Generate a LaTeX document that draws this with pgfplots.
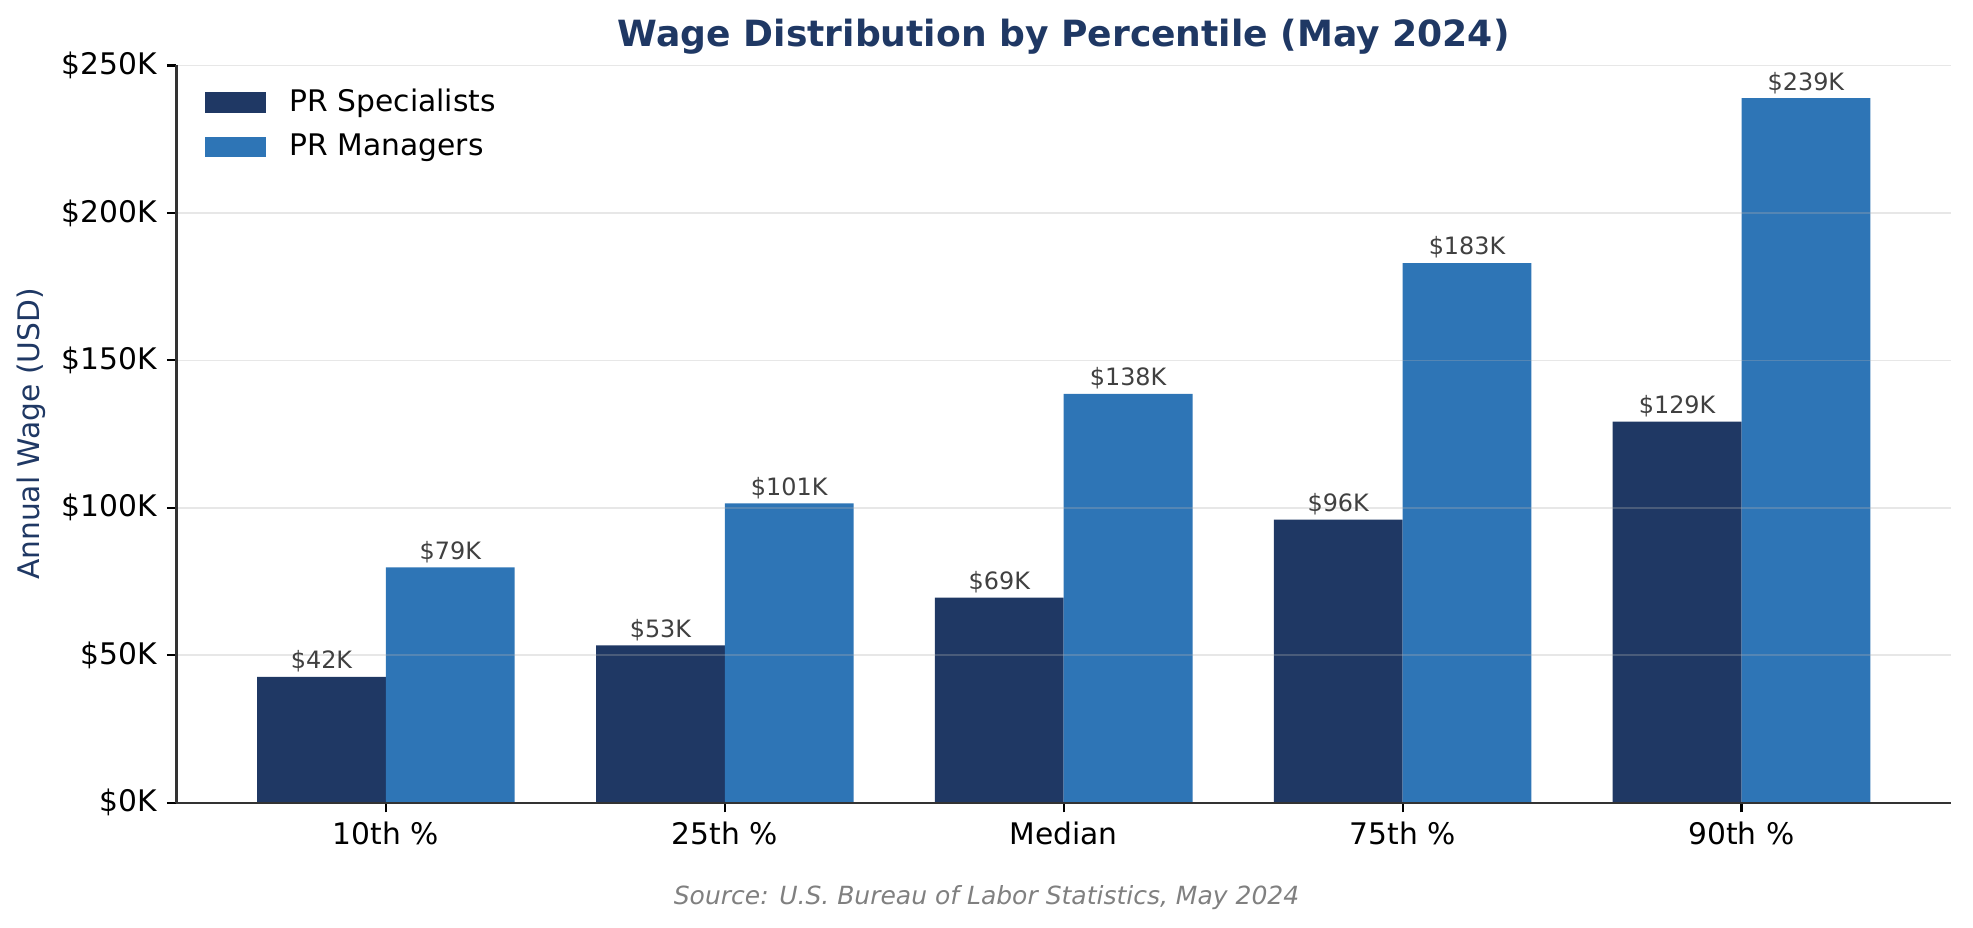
\documentclass[border=0pt]{standalone}
\usepackage{fontspec}
\setmainfont{DejaVu Sans}
\usepackage{pgfplots}
\pgfplotsset{compat=1.18}

\definecolor{navy}{HTML}{1F3864}
\definecolor{midblue}{HTML}{2E75B6}
\definecolor{lbl}{HTML}{404040}
\definecolor{srcgray}{HTML}{808080}
\definecolor{gridc}{HTML}{B0B0B0}
\definecolor{spine}{HTML}{333333}

\begin{document}
\begin{tikzpicture}
\begin{axis}[
    scale only axis,
    width=638.8pt, height=265.4pt,
    xmin=-0.618, xmax=4.618, ymin=0, ymax=250,
    axis x line*=bottom, axis y line*=left,
    axis line style={spine, line width=0.8pt, -},
    axis on top,
    ybar, bar width=0.38,
    xtick={0,1,2,3,4},
    xticklabels={10th \%, 25th \%, Median, 75th \%, 90th \%},
    ytick={0,50,100,150,200,250},
    yticklabels={\$0K,\$50K,\$100K,\$150K,\$200K,\$250K},
    tick align=outside, major tick length=3.5pt,
    tick style={black, line width=0.8pt},
    ymajorgrids,
    grid style={gridc, opacity=0.3, line width=0.6pt},
    ticklabel style={font=\fontsize{10.7}{12}\selectfont},
    title={Wage Distribution by Percentile (May 2024)},
    every axis title/.style={at={(axis description cs:0.5,1)}, anchor=base,
        yshift=6.8pt, font=\fontsize{13}{15}\selectfont\bfseries, text=navy},
    ylabel={Annual Wage (USD)},
    every axis y label/.style={at={(axis description cs:0,0.5)}, anchor=center,
        xshift=-52.1pt, rotate=90, font=\fontsize{10.7}{12}\selectfont, text=navy},
    legend style={draw=none, fill=none, at={(axis description cs:0,1)},
        anchor=north west, xshift=7.1pt, yshift=-5.3pt,
        font=\fontsize{10.7}{12}\selectfont, nodes={inner sep=1pt},
        row sep=4.5pt,
        /tikz/every odd column/.append style={column sep=7.5pt}},
    legend cell align=left,
    nodes near coords, point meta=explicit symbolic,
    every node near coord/.append style={font=\fontsize{8.6}{10}\selectfont,
        text=lbl, inner sep=0pt, text depth=0pt, anchor=south, yshift=2.7pt},
    clip=false,
]
\addplot[fill=navy, draw=none, bar shift=-0.19,
    legend image code/.code={\fill[navy] (0pt,-3.7pt) rectangle (22pt,3.7pt);}]
    coordinates {(0,42.66) [\$42K] (1,53.33) [\$53K] (2,69.54) [\$69K]
                 (3,95.99) [\$96K] (4,129.27) [\$129K]};
\addlegendentry{PR Specialists}
\addplot[fill=midblue, draw=none, bar shift=0.19,
    legend image code/.code={\fill[midblue] (0pt,-3.7pt) rectangle (22pt,3.7pt);}]
    coordinates {(0,79.78) [\$79K] (1,101.5) [\$101K] (2,138.65) [\$138K]
                 (3,183.02) [\$183K] (4,238.9) [\$239K]};
\addlegendentry{PR Managers}
\coordinate (o) at (rel axis cs:0,0);
\node[anchor=base, font=\fontsize{9}{11}\selectfont\itshape, text=srcgray,
      xshift=291.6pt, yshift=-36.5pt] at (rel axis cs:0,0)
      {Source: U.S. Bureau of Labor Statistics, May 2024};
\end{axis}
\pgfresetboundingbox
\path[use as bounding box] (o) ++(-63.54pt,-45.1pt) rectangle ++(710.28pt,334.08pt);
\end{tikzpicture}
\end{document}
